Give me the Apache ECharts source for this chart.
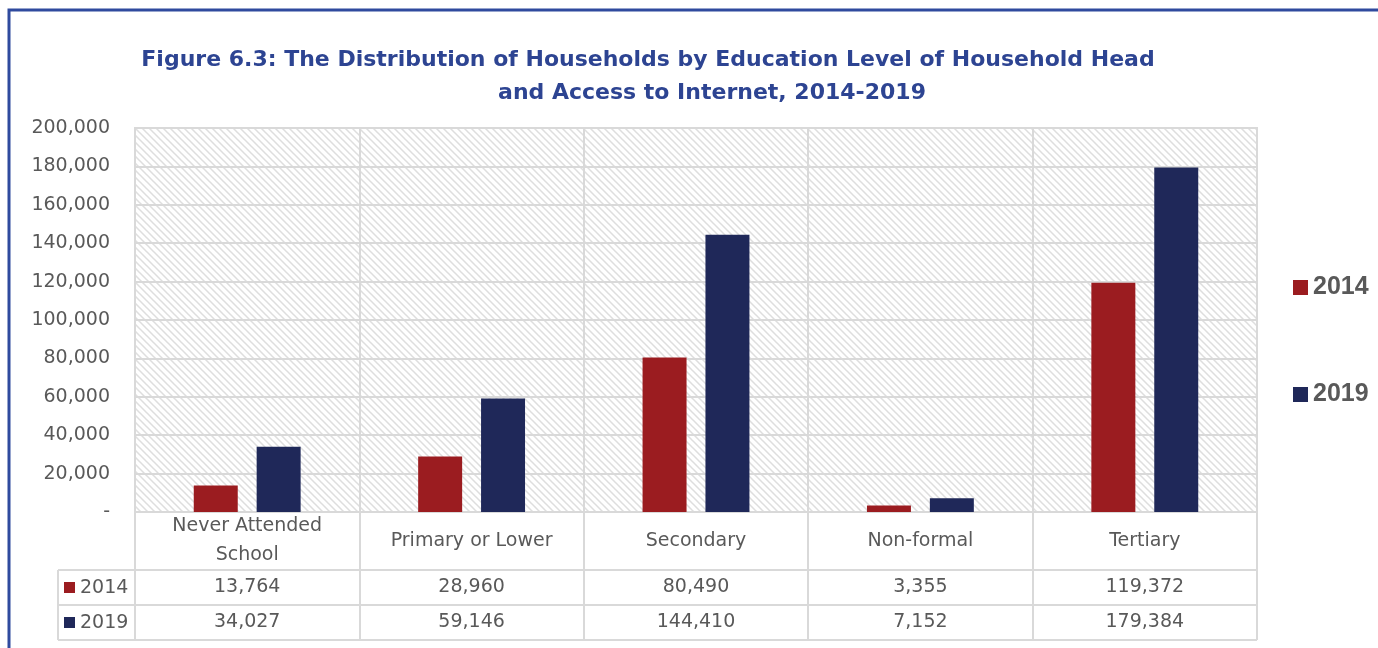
<!DOCTYPE html>
<html>
<head>
<meta charset="utf-8">
<script src="https://cdn.jsdelivr.net/npm/echarts@6/dist/echarts.min.js"></script>
<style>
  html, body { margin: 0; padding: 0; background: #ffffff; }
  #chart { width: 1378px; height: 648px; }
</style>
</head>
<body>
<div id="chart"></div>
<script>
// ---- data ----
const categories = ['Never Attended\nSchool', 'Primary or Lower', 'Secondary', 'Non-formal', 'Tertiary'];
const seriesNames = ['2014', '2019'];
const values2014 = [13764, 28960, 80490, 3355, 119372];
const values2019 = [34027, 59146, 144410, 7152, 179384];
const yTicks = [0, 20000, 40000, 60000, 80000, 100000, 120000, 140000, 160000, 180000, 200000];
const titleLines = ['Figure 6.3: The Distribution of Households by Education Level of Household Head',
                    'and Access to Internet, 2014-2019'];

// ---- styles / layout ----
const RED = '#9B1C20';
const NAVY = '#1F2859';
const GRIDC = '#d9d9d9';
const TXT = '#595959';
const FONT = '"DejaVu Sans", sans-serif';
const G = { left: 135, right: 121, top: 128, bottom: 136 };
const H = 648;
const axisY = H - G.bottom;           // 512
const row1Top = axisY + 58;            // 570
const row2Top = row1Top + 35;          // 605
const tableBottom = row2Top + 35;      // 640
const tableLeft = 58;
const W = 1378;

function hatch() {
  const s = 7;
  const c = document.createElement('canvas');
  c.width = s; c.height = s;
  const g = c.getContext('2d');
  g.fillStyle = '#ffffff';
  g.fillRect(0, 0, s, s);
  g.strokeStyle = '#dedede';
  g.lineWidth = 1.5;
  g.beginPath();
  for (let k = -s; k <= s; k += s) {
    g.moveTo(k - 1, -1);
    g.lineTo(k + s + 1, s + 1);
  }
  g.stroke();
  return { image: c, repeat: 'repeat' };
}

const fmt = v => v.toLocaleString('en-US');

const chart = echarts.init(document.getElementById('chart'), null, { renderer: 'canvas' });

const option = {
  backgroundColor: '#ffffff',
  animation: false,
  grid: {
    left: G.left, right: G.right, top: G.top, bottom: G.bottom,
    show: true, backgroundColor: hatch(), borderColor: GRIDC, borderWidth: 2,
    containLabel: false
  },
  legend: {
    orient: 'vertical',
    left: 1288, top: 270,
    itemWidth: 15, itemHeight: 15, itemGap: 82,
    icon: 'rect',
    textStyle: { fontFamily: '"Liberation Sans", sans-serif', fontSize: 25, fontWeight: 'bold', color: TXT },
    data: seriesNames
  },
  xAxis: {
    type: 'category',
    data: categories,
    boundaryGap: true,
    axisLine: { show: true, lineStyle: { color: GRIDC, width: 2 } },
    axisTick: { show: true, interval: 0, length: tableBottom - axisY, lineStyle: { color: GRIDC, width: 2 } },
    axisLabel: {
      interval: 0, margin: 0, verticalAlign: 'top',
      color: TXT, fontFamily: FONT, fontSize: 19,
      formatter: function (value, idx) {
        const parts = value.split('\n');
        let s = parts.length > 1 ? parts.map(p => '{n2|' + p + '}').join('\n') : '{n1|' + value + '}';
        s += '\n{v|' + fmt(values2014[idx]) + '}\n{v|' + fmt(values2019[idx]) + '}';
        return s;
      },
      rich: {
        n1: { lineHeight: 58, fontSize: 19, fontFamily: FONT, color: TXT },
        n2: { lineHeight: 29, fontSize: 19, fontFamily: FONT, color: TXT },
        v: { lineHeight: 35, fontSize: 19, fontFamily: FONT, color: TXT }
      }
    },
    splitLine: { show: true, interval: 0, lineStyle: { color: GRIDC, width: 2 } }
  },
  yAxis: {
    type: 'value',
    min: yTicks[0], max: yTicks[yTicks.length - 1], interval: yTicks[1] - yTicks[0],
    axisLine: { show: false },
    axisTick: { show: false },
    axisLabel: {
      margin: 25, color: TXT, fontFamily: FONT, fontSize: 19,
      formatter: v => v === 0 ? '-' : fmt(v)
    },
    splitLine: { show: true, lineStyle: { color: GRIDC, width: 2 } }
  },
  series: [
    { name: seriesNames[0], type: 'bar', data: values2014, barWidth: '19.6%', barGap: '43%',
      itemStyle: { color: RED } },
    { name: seriesNames[1], type: 'bar', data: values2019, barWidth: '19.6%', barGap: '43%',
      itemStyle: { color: NAVY } }
  ],
  graphic: [
    { type: 'rect', shape: { x: 9, y: 10, width: W + 40, height: H + 40 }, silent: true,
      style: { fill: 'none', stroke: '#2F4A9E', lineWidth: 3 } },
    { type: 'text', x: 648, y: 60, silent: true,
      style: { text: titleLines[0], textAlign: 'center', textVerticalAlign: 'middle',
               font: 'bold 22px "DejaVu Sans", sans-serif', fill: '#2D4492' } },
    { type: 'text', x: 712, y: 93, silent: true,
      style: { text: titleLines[1], textAlign: 'center', textVerticalAlign: 'middle',
               font: 'bold 22px "DejaVu Sans", sans-serif', fill: '#2D4492' } },
    { type: 'line', silent: true, shape: { x1: tableLeft, y1: row1Top, x2: W - G.right, y2: row1Top },
      style: { stroke: GRIDC, lineWidth: 2 } },
    { type: 'line', silent: true, shape: { x1: tableLeft, y1: row2Top, x2: W - G.right, y2: row2Top },
      style: { stroke: GRIDC, lineWidth: 2 } },
    { type: 'line', silent: true, shape: { x1: tableLeft, y1: tableBottom, x2: W - G.right, y2: tableBottom },
      style: { stroke: GRIDC, lineWidth: 2 } },
    { type: 'line', silent: true, shape: { x1: tableLeft, y1: row1Top, x2: tableLeft, y2: tableBottom },
      style: { stroke: GRIDC, lineWidth: 2 } },
    { type: 'rect', silent: true, shape: { x: 64, y: row1Top + 12, width: 11, height: 11 }, style: { fill: RED } },
    { type: 'rect', silent: true, shape: { x: 64, y: row2Top + 12, width: 11, height: 11 }, style: { fill: NAVY } },
    { type: 'text', silent: true, x: 80, y: row1Top + 18,
      style: { text: seriesNames[0], textVerticalAlign: 'middle', font: '19px "DejaVu Sans", sans-serif', fill: TXT } },
    { type: 'text', silent: true, x: 80, y: row2Top + 18,
      style: { text: seriesNames[1], textVerticalAlign: 'middle', font: '19px "DejaVu Sans", sans-serif', fill: TXT } }
  ]
};
chart.setOption(option);
</script>
</body>
</html>
